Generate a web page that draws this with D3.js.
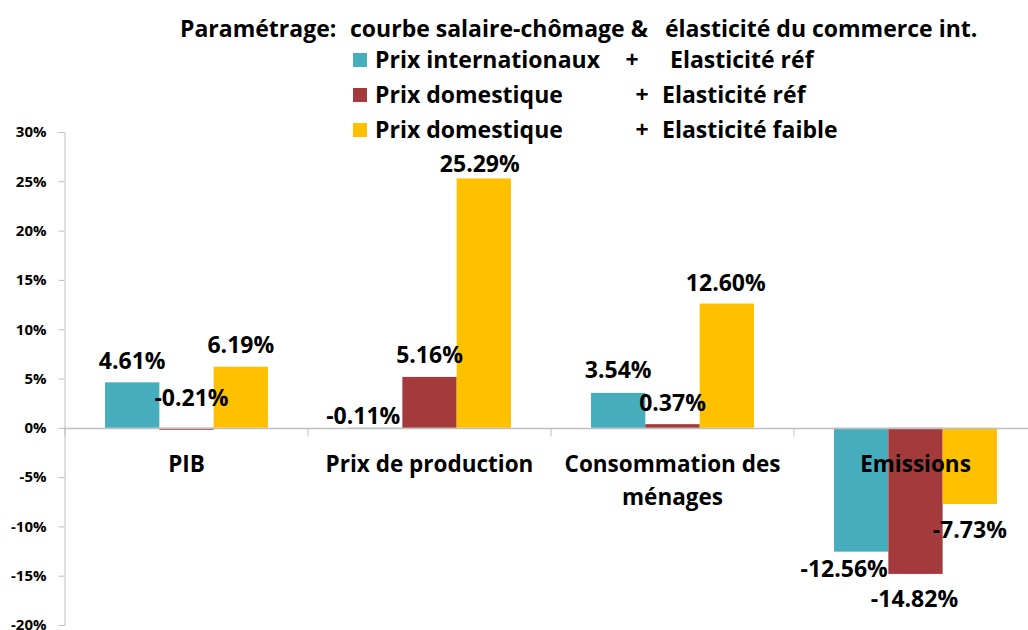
<!DOCTYPE html>
<html>
<head>
<meta charset="utf-8">
<script src="https://cdn.jsdelivr.net/npm/d3@7/dist/d3.min.js"></script>
<style>
  html, body { margin: 0; padding: 0; background: #ffffff; }
  svg { display: block; font-family: "Open Sans", "Liberation Sans", sans-serif; }
</style>
</head>
<body>
<svg id="chart" width="1028" height="630"></svg>
<script>
// ---- data ----
const categories = ["PIB", "Prix de production", "Consommation des ménages", "Emissions"];
const seriesNames = ["Prix internationaux", "Prix domestique", "Prix domestique"];
const seriesElasticity = ["Elasticité réf", "Elasticité réf", "Elasticité faible"];
const seriesIntl = [4.61, -0.11, 3.54, -12.56];
const seriesDomRef = [-0.21, 5.16, 0.37, -14.82];
const seriesDomLow = [6.19, 25.29, 12.60, -7.73];
const yTicks = [-20, -15, -10, -5, 0, 5, 10, 15, 20, 25, 30];
const titleParts = ["Paramétrage:", "courbe salaire-chômage &", "élasticité du commerce int."];

const seriesValues = [seriesIntl, seriesDomRef, seriesDomLow];
const colors = ["#46ADBD", "#A33B3D", "#FFC000"];

// ---- layout ----
const svg = d3.select("#chart");
const plot = { left: 65, right: 1037, top: 132, bottom: 625 };

const y = d3.scaleLinear().domain([-20, 30]).range([plot.bottom, plot.top]);
const x0 = d3.scaleBand().domain(categories).range([plot.left, plot.right]).padding(0);
const x1 = d3.scaleBand().domain([0, 1, 2]).range([0, x0.bandwidth()])
  .paddingInner(0).paddingOuter(0.7375);

// y axis
const yAxis = d3.axisLeft(y).tickValues(yTicks).tickFormat(d => d + "%").tickSizeOuter(0).tickSize(6).tickPadding(12);
const gy = svg.append("g").attr("transform", `translate(${plot.left - 0.5},0)`).call(yAxis);
gy.select(".domain").attr("stroke", "#bfbfbf");
gy.selectAll(".tick line").attr("stroke", "#bfbfbf");
gy.selectAll(".tick text").attr("fill", "#000").style("font-family", "'Open Sans', sans-serif")
  .style("font-weight", 700).style("font-size", "15px");

// bars
const rows = [];
seriesValues.forEach((vals, s) => vals.forEach((v, i) => rows.push({ s, cat: categories[i], v })));

svg.append("g").selectAll("rect").data(rows).join("rect")
  .attr("x", d => x0(d.cat) + x1(d.s))
  .attr("width", x1.bandwidth())
  .attr("y", d => y(Math.max(0, d.v)))
  .attr("height", d => Math.abs(y(d.v) - y(0)))
  .attr("fill", d => colors[d.s]);

// zero axis with category tick marks
const gx = svg.append("g").attr("transform", `translate(0,${Math.round(y(0)) + 0.5})`);
gx.append("line").attr("x1", plot.left - 1).attr("x2", 1028).attr("stroke", "#bfbfbf").attr("stroke-width", 1.5);
gx.selectAll("line.tk").data(categories.map(c => x0(c))).join("line").attr("class", "tk")
  .attr("x1", d => d).attr("x2", d => d).attr("y1", 0).attr("y2", 8).attr("stroke", "#bfbfbf");

// category labels
const catLines = { "Consommation des ménages": ["Consommation des", "ménages"] };
categories.forEach(c => {
  const lines = catLines[c] || [c];
  const t = svg.append("text").attr("text-anchor", "middle")
    .attr("x", x0(c) + x0.bandwidth() / 2).attr("y", y(0) + 44)
    .style("font-weight", 700).style("font-size", "22.5px").attr("fill", "#000");
  lines.forEach((ln, k) => t.append("tspan").attr("x", x0(c) + x0.bandwidth() / 2).attr("dy", k ? 33 : 0).text(ln));
});

// value labels
const nudge = {
  "0|PIB": [0, 0], "1|PIB": [5, -9], "2|PIB": [0, -1],
  "0|Prix de production": [-12, 9], "1|Prix de production": [0, -1], "2|Prix de production": [-4, 7],
  "0|Consommation des ménages": [0, -2], "1|Consommation des ménages": [0, 0], "2|Consommation des ménages": [-1, 0],
  "0|Emissions": [-17, -8], "1|Emissions": [-1, 0], "2|Emissions": [0, 1]
};
svg.append("g").selectAll("text").data(rows).join("text")
  .attr("text-anchor", "middle")
  .attr("x", d => x0(d.cat) + x1(d.s) + x1.bandwidth() / 2 + nudge[d.s + "|" + d.cat][0])
  .attr("y", d => (d.v > -1 ? y(Math.max(d.v, 0)) - 13 : y(d.v) + 33) + nudge[d.s + "|" + d.cat][1])
  .style("font-weight", 700).style("font-size", "23px").attr("fill", "#000")
  .text(d => d.v.toFixed(2) + "%");

// legend / title
const title = svg.append("text").attr("y", 37).style("font-weight", 700).style("font-size", "23px").attr("fill", "#000");
const titleX = [180, 350, 665];
titleParts.forEach((p, k) => title.append("tspan").attr("x", titleX[k]).text(p));

const legend = svg.append("g");
const rowY = [68, 103, 138];
const plusX = [632, 642, 642];
const elasX = [670, 662, 662];
seriesNames.forEach((n, k) => {
  legend.append("rect").attr("x", 353).attr("y", rowY[k] - 15).attr("width", 14).attr("height", 14).attr("fill", colors[k]);
  legend.append("text").attr("x", 375).attr("y", rowY[k]).style("font-weight", 700).style("font-size", "23px").text(n);
  legend.append("text").attr("x", plusX[k]).attr("y", rowY[k]).attr("text-anchor", "middle").style("font-weight", 700).style("font-size", "23px").text("+");
  legend.append("text").attr("x", elasX[k]).attr("y", rowY[k]).style("font-weight", 700).style("font-size", "23px").text(seriesElasticity[k]);
});
</script>
</body>
</html>
